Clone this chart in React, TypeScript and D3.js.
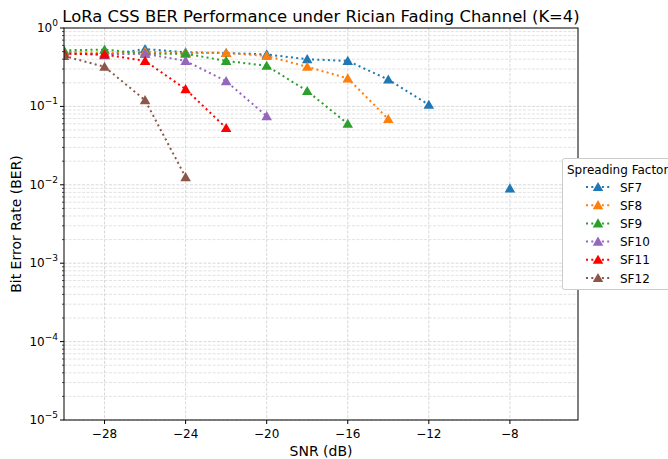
import { useEffect, useRef } from 'react';
import * as d3 from 'd3';

// SNR points (dB)
const snr = [-30, -28, -26, -24, -22, -20, -18, -16, -14, -12, -10, -8];

// BER per spreading factor (null = no errors, not drawn on log axis)
const sf7 = [0.5, 0.45, 0.54, 0.49, 0.48, 0.46, 0.4, 0.38, 0.22, 0.105, null, 0.009];
const sf8 = [0.5, 0.48, 0.5, 0.48, 0.48, 0.44, 0.32, 0.228, 0.069, null, null, null];
const sf9 = [0.52, 0.53, 0.47, 0.47, 0.38, 0.33, 0.157, 0.06, null, null, null, null];
const sf10 = [0.47, 0.46, 0.47, 0.38, 0.21, 0.075, null, null, null, null, null, null];
const sf11 = [0.47, 0.46, 0.38, 0.166, 0.053, null, null, null, null, null, null, null];
const sf12 = [0.44, 0.32, 0.12, 0.0125, null, null, null, null, null, null, null, null];

const seriesNames = ['SF7', 'SF8', 'SF9', 'SF10', 'SF11', 'SF12'];
const seriesValues = [sf7, sf8, sf9, sf10, sf11, sf12];
const colors = ['#1f77b4', '#ff7f0e', '#2ca02c', '#9467bd', '#ff0000', '#8c564b'];

const xTicks = [-28, -24, -20, -16, -12, -8];
const yExponents = [0, -1, -2, -3, -4, -5];

const FONT = 'DejaVu Sans, sans-serif';

const App = () => {
  const svgRef = useRef<SVGSVGElement>(null);

  useEffect(() => {
    const svg = d3.select(svgRef.current);
    svg.selectAll('*').remove();

    const left = 64, right = 578, top = 28, bottom = 420;

    const x = d3.scaleLinear().domain([-30, -4.64]).range([left, right]);
    const y = d3.scaleLog().domain([1e-5, 1]).range([bottom, top]);

    svg.append('rect').attr('width', 668).attr('height', 459).attr('fill', '#fff');

    // clip for plot area
    svg.append('defs').append('clipPath').attr('id', 'plotclip')
      .append('rect').attr('x', left).attr('y', top)
      .attr('width', right - left).attr('height', bottom - top);

    const grid = svg.append('g');
    // y grid: major + minor
    for (let e = -5; e < 0; e++) {
      for (let m = 1; m <= 9; m++) {
        const v = m * Math.pow(10, e);
        grid.append('line')
          .attr('x1', left).attr('x2', right)
          .attr('y1', y(v)).attr('y2', y(v))
          .attr('stroke', '#cfcfcf').attr('stroke-width', m === 1 ? 0.8 : 0.6)
          .attr('stroke-dasharray', '3,1.5');
      }
    }
    xTicks.forEach((t) => {
      grid.append('line')
        .attr('x1', x(t)).attr('x2', x(t))
        .attr('y1', top).attr('y2', bottom)
        .attr('stroke', '#cfcfcf').attr('stroke-width', 0.8)
        .attr('stroke-dasharray', '3,1.5');
    });

    // series
    const plot = svg.append('g').attr('clip-path', 'url(#plotclip)');
    const line = d3.line<[number, number | null]>()
      .defined((d) => d[1] != null)
      .x((d) => x(d[0]))
      .y((d) => y(d[1] as number));
    const tri = d3.symbol().type(d3.symbolTriangle).size(48);

    seriesValues.forEach((vals, i) => {
      const pts = snr.map((s, k) => [s, vals[k]] as [number, number | null]);
      plot.append('path')
        .attr('d', line(pts))
        .attr('fill', 'none')
        .attr('stroke', colors[i])
        .attr('stroke-width', 2)
        .attr('stroke-dasharray', '2,3.3')
        .attr('stroke-linecap', 'butt');
      pts.filter((d) => d[1] != null).forEach((d) => {
        plot.append('path')
          .attr('d', tri())
          .attr('transform', `translate(${x(d[0])},${y(d[1] as number) + 1})`)
          .attr('fill', colors[i]);
      });
    });

    // spines
    svg.append('rect')
      .attr('x', left).attr('y', top)
      .attr('width', right - left).attr('height', bottom - top)
      .attr('fill', 'none').attr('stroke', '#000').attr('stroke-width', 1);

    // x ticks
    xTicks.forEach((t) => {
      svg.append('line')
        .attr('x1', x(t)).attr('x2', x(t))
        .attr('y1', bottom).attr('y2', bottom + 4)
        .attr('stroke', '#000');
      svg.append('text')
        .attr('x', x(t)).attr('y', bottom + 18)
        .attr('text-anchor', 'middle')
        .style('font-family', FONT).style('font-size', '12px')
        .text(`\u2212${Math.abs(t)}`);
    });

    // y ticks
    for (let e = -5; e < 0; e++) {
      for (let m = 2; m <= 9; m++) {
        const v = m * Math.pow(10, e);
        svg.append('line')
          .attr('x1', left - 2).attr('x2', left)
          .attr('y1', y(v)).attr('y2', y(v))
          .attr('stroke', '#000').attr('stroke-width', 0.7);
      }
    }
    yExponents.forEach((e) => {
      const yy = y(Math.pow(10, e));
      svg.append('line')
        .attr('x1', left - 4).attr('x2', left)
        .attr('y1', yy).attr('y2', yy)
        .attr('stroke', '#000');
      const txt = svg.append('text')
        .attr('x', left - 6).attr('y', yy + 4)
        .attr('text-anchor', 'end')
        .style('font-family', FONT).style('font-size', '12px');
      txt.append('tspan').text('10');
      txt.append('tspan').attr('dy', -6).style('font-size', '9px')
        .text(e === 0 ? '0' : `\u2212${Math.abs(e)}`);
    });

    // labels
    svg.append('text')
      .attr('x', (left + right) / 2).attr('y', 456)
      .attr('text-anchor', 'middle')
      .style('font-family', FONT).style('font-size', '14px')
      .text('SNR (dB)');
    svg.append('text')
      .attr('transform', `translate(21,${(top + bottom) / 2}) rotate(-90)`)
      .attr('text-anchor', 'middle')
      .style('font-family', FONT).style('font-size', '14px')
      .text('Bit Error Rate (BER)');
    svg.append('text')
      .attr('x', (left + right) / 2).attr('y', 22)
      .attr('text-anchor', 'middle')
      .style('font-family', FONT).style('font-size', '16.4px')
      .text('LoRa CSS BER Performance under Rician Fading Channel (K=4)');

    // legend
    const lg = svg.append('g');
    lg.append('rect')
      .attr('x', 562.5).attr('y', 158.5)
      .attr('width', 120).attr('height', 131)
      .attr('rx', 2)
      .attr('fill', '#fff').attr('stroke', '#ccc');
    lg.append('text')
      .attr('x', 567).attr('y', 174)
      .style('font-family', FONT).style('font-size', '12px')
      .text('Spreading Factor');
    seriesNames.forEach((name, i) => {
      const cy = 187 + i * 18.2;
      lg.append('line')
        .attr('x1', 586).attr('x2', 610)
        .attr('y1', cy).attr('y2', cy)
        .attr('stroke', colors[i]).attr('stroke-width', 2)
        .attr('stroke-dasharray', '2,3.3');
      lg.append('path')
        .attr('d', tri())
        .attr('transform', `translate(598,${cy + 1})`)
        .attr('fill', colors[i]);
      lg.append('text')
        .attr('x', 620).attr('y', cy + 4.5)
        .style('font-family', FONT).style('font-size', '12px')
        .text(name);
    });
  }, []);

  return (
    <svg
      ref={svgRef}
      width={668}
      height={459}
      style={{ position: 'absolute', left: 0, top: 0, display: 'block' }}
    />
  );
};

export default App;
